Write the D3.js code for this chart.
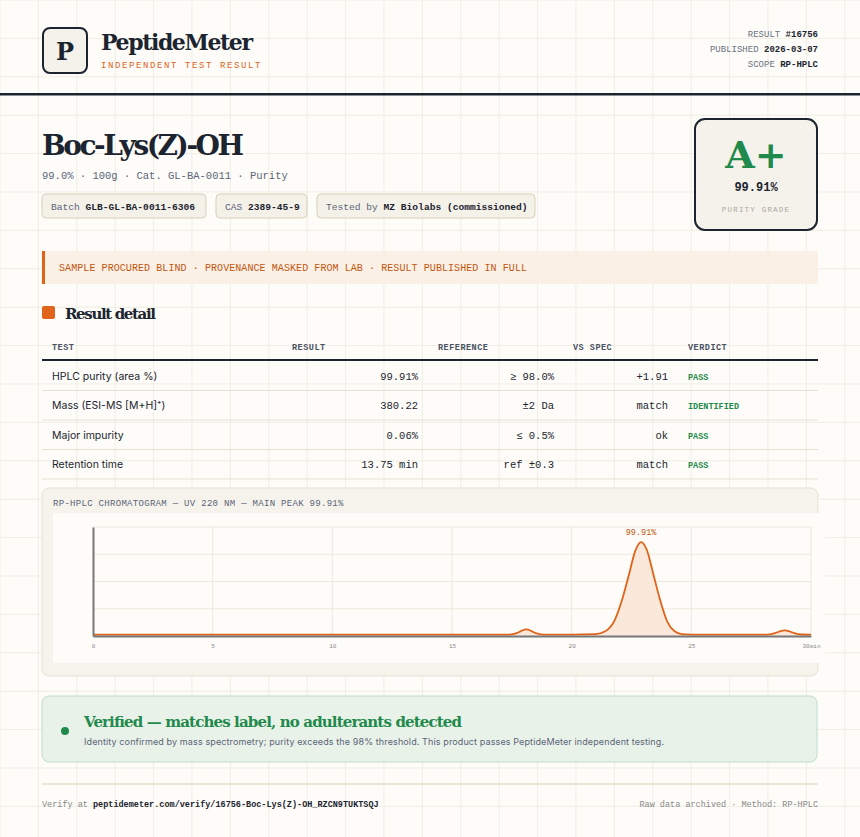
<!DOCTYPE html>
<html><head><meta charset="utf-8">
<script src="https://cdn.jsdelivr.net/npm/d3@7/dist/d3.min.js"></script>
<style>body{margin:0;background:#fdfcf8;}svg{display:block}</style>
</head><body><svg id="c" width="860" height="837"></svg>
<script>
const SERIF='"DejaVu Serif", "Liberation Serif", serif';
const MONO='"Liberation Mono", "DejaVu Sans Mono", monospace';
const SANS='Inter, "Noto Sans", sans-serif';
const INK='#1c2430', ORANGE='#e0631a', GREEN='#1f8a4c', GRAY='#6b7280';

const meta=[["RESULT","#16756"],["PUBLISHED","2026-03-07"],["SCOPE","RP-HPLC"]];
const chips=[["Batch","GLB-GL-BA-0011-6306"],["CAS","2389-45-9"],["Tested by","MZ Biolabs (commissioned)"]];
const columns=["TEST","RESULT","REFERENCE","VS SPEC","VERDICT"];
const tests=["HPLC purity (area %)","Mass (ESI-MS [M+H]⁺)","Major impurity","Retention time"];
const results=["99.91%","380.22","0.06%","13.75 min"];
const references=["≥ 98.0%","±2 Da","≤ 0.5%","ref ±0.3"];
const vsSpec=["+1.91","match","ok","match"];
const verdicts=["PASS","IDENTIFIED","PASS","PASS"];
const xTicks=[0,5,10,15,20,25,30];
// chromatogram samples: time (min), signal (% of main peak)
const times=[0,5,10,15,17.4,17.7,17.9,18.1,18.3,18.5,18.8,20,21,21.4,21.8,22.1,22.4,22.65,22.9,23.15,23.4,23.7,24.0,24.3,24.6,25,28.2,28.5,28.7,28.9,29.1,29.3,29.6,30];
const signal=[1.5,1.5,1.5,1.5,1.5,3,5.5,7,5.5,3,1.5,1.5,2,5,17,38,66,90,100,91,67,38,15,5,2,1.5,1.5,3,5,6,5,3,1.6,1.5];

const svg=d3.select("#c");
const g0=svg.append("g");
for(let x=0;x<=860;x+=38.4) g0.append("line").attr("x1",x).attr("x2",x).attr("y1",0).attr("y2",837).attr("stroke","#efede4");
for(let y=0;y<=837;y+=38.4) g0.append("line").attr("y1",y).attr("y2",y).attr("x1",0).attr("x2",860).attr("stroke","#efede4");

svg.append("rect").attr("x",43).attr("y",28).attr("width",44).attr("height",45).attr("rx",7).attr("fill","#f4f2ea").attr("stroke",INK).attr("stroke-width",2);
svg.append("text").attr("x",65).attr("y",60).attr("text-anchor","middle").attr("font-family",SERIF).attr("font-weight","bold").attr("font-size",24).attr("fill",INK).text("P");
svg.append("text").attr("x",101).attr("y",50).attr("font-family",SERIF).attr("font-weight","bold").attr("font-size",22).attr("fill",INK).attr("textLength",152).text("PeptideMeter");
svg.append("text").attr("x",101).attr("y",68).attr("font-family",MONO).attr("font-size",9).attr("letter-spacing",1.6).attr("fill",ORANGE).text("INDEPENDENT TEST RESULT");
meta.forEach((m,i)=>{
  const t=svg.append("text").attr("x",818).attr("y",37+i*15).attr("text-anchor","end").attr("font-family",MONO).attr("font-size",9).attr("fill",GRAY);
  t.append("tspan").text(m[0]+" ");
  t.append("tspan").attr("fill",INK).attr("font-weight","bold").text(m[1]);
});
svg.append("rect").attr("x",0).attr("y",93).attr("width",860).attr("height",2.5).attr("fill",INK);

svg.append("text").attr("x",42).attr("y",155).attr("font-family",SERIF).attr("font-weight","bold").attr("font-size",28).attr("fill",INK).attr("textLength",202).text("Boc-Lys(Z)-OH");
svg.append("text").attr("x",42).attr("y",179).attr("font-family",MONO).attr("font-size",10.5).attr("fill","#5b6478").text("99.0% · 100g · Cat. GL-BA-0011 · Purity");
let cx=42;
const chipW=[164,91,218];
chips.forEach((c,i)=>{
  svg.append("rect").attr("x",cx).attr("y",194).attr("width",chipW[i]).attr("height",24).attr("rx",4).attr("fill","#f4f1e8").attr("stroke","#d8cfb8");
  const t=svg.append("text").attr("x",cx+9).attr("y",209.5).attr("font-family",MONO).attr("font-size",9.6).attr("fill","#5b6478");
  t.append("tspan").text(c[0]+" ");
  t.append("tspan").attr("fill",INK).attr("font-weight","bold").text(c[1]);
  cx+=chipW[i]+10;
});
svg.append("rect").attr("x",695).attr("y",119).attr("width",122).attr("height",111).attr("rx",10).attr("fill","#f4f2ea").attr("stroke",INK).attr("stroke-width",2);
svg.append("text").attr("x",756).attr("y",168).attr("text-anchor","middle").attr("font-family",SERIF).attr("font-weight","bold").attr("font-size",38).attr("fill",GREEN).text("A+");
svg.append("text").attr("x",756).attr("y",191).attr("text-anchor","middle").attr("font-family",MONO).attr("font-weight","bold").attr("font-size",12).attr("fill",INK).text("99.91%");
svg.append("text").attr("x",756).attr("y",212).attr("text-anchor","middle").attr("font-family",MONO).attr("font-size",7.5).attr("letter-spacing",1.2).attr("fill","#a8a89c").text("PURITY GRADE");

svg.append("rect").attr("x",42).attr("y",251).attr("width",776).attr("height",33).attr("fill","#faf0e6");
svg.append("rect").attr("x",42).attr("y",251).attr("width",3).attr("height",33).attr("fill",ORANGE);
svg.append("text").attr("x",59).attr("y",270.5).attr("font-family",MONO).attr("font-size",10).attr("fill","#c2560f").attr("textLength",468).text("SAMPLE PROCURED BLIND · PROVENANCE MASKED FROM LAB · RESULT PUBLISHED IN FULL");

svg.append("rect").attr("x",42).attr("y",306).attr("width",13).attr("height",13).attr("rx",2).attr("fill",ORANGE);
svg.append("text").attr("x",65).attr("y",319).attr("font-family",SERIF).attr("font-weight","bold").attr("font-size",15).attr("fill",INK).attr("textLength",91).text("Result detail");
const colX=[52,292,438,573,688];
columns.forEach((c,i)=>svg.append("text").attr("x",colX[i]).attr("y",350).attr("font-family",MONO).attr("font-weight","bold").attr("font-size",8.5).attr("letter-spacing",0.5).attr("fill","#4b5263").text(c));
svg.append("rect").attr("x",42).attr("y",359).attr("width",776).attr("height",2).attr("fill",INK);
const rowY=d3.scaleBand().domain(d3.range(tests.length)).range([361,479]);
tests.forEach((t,i)=>{
  const y=rowY(i)+rowY.bandwidth()/2+4;
  svg.append("text").attr("x",52).attr("y",y).attr("font-family",SANS).attr("font-size",10.5).attr("fill",INK).text(t);
  svg.append("text").attr("x",418).attr("y",y).attr("text-anchor","end").attr("font-family",MONO).attr("font-size",10.5).attr("fill",INK).text(results[i]);
  svg.append("text").attr("x",554).attr("y",y).attr("text-anchor","end").attr("font-family",MONO).attr("font-size",10.5).attr("fill",INK).text(references[i]);
  svg.append("text").attr("x",668).attr("y",y).attr("text-anchor","end").attr("font-family",MONO).attr("font-size",10.5).attr("fill",INK).text(vsSpec[i]);
  svg.append("text").attr("x",688).attr("y",y).attr("font-family",MONO).attr("font-weight","bold").attr("font-size",8.5).attr("fill",GREEN).text(verdicts[i]);
  svg.append("line").attr("x1",42).attr("x2",818).attr("y1",rowY(i)+rowY.bandwidth()).attr("y2",rowY(i)+rowY.bandwidth()).attr("stroke","#e5e0d2").attr("stroke-width",1.2);
});

svg.append("rect").attr("x",42).attr("y",488).attr("width",776).attr("height",188).attr("rx",7).attr("fill","#f5f3ec").attr("stroke","#e6e1d3");
svg.append("text").attr("x",53).attr("y",506).attr("font-family",MONO).attr("font-size",9).attr("letter-spacing",0.3).attr("fill","#5b6478").text("RP-HPLC CHROMATOGRAM — UV 220 NM — MAIN PEAK 99.91%");
svg.append("rect").attr("x",53).attr("y",513).attr("width",772).attr("height",150).attr("fill","#fdfcf8");
const x=d3.scaleLinear().domain([0,30]).range([93,811]);
const y=d3.scaleLinear().domain([0,116]).range([636,527]);
const cg=svg.append("g");
[29,58,87,116].forEach(v=>cg.append("line").attr("x1",93).attr("x2",811).attr("y1",y(v)).attr("y2",y(v)).attr("stroke","#ece8dc").attr("stroke-width",1.2));
xTicks.slice(1).forEach(v=>cg.append("line").attr("x1",x(v)).attr("x2",x(v)).attr("y1",527).attr("y2",636).attr("stroke","#ece8dc").attr("stroke-width",1));
const pts=times.map((t,i)=>[t,signal[i]]);
const area=d3.area().x(d=>x(d[0])).y0(y(0)).y1(d=>y(d[1])).curve(d3.curveMonotoneX);
const line=d3.line().x(d=>x(d[0])).y(d=>y(d[1])).curve(d3.curveMonotoneX);
cg.append("path").datum(pts).attr("d",area).attr("fill","#f9e6d6").attr("opacity",0.9);
cg.append("path").datum(pts).attr("d",line).attr("fill","none").attr("stroke",ORANGE).attr("stroke-width",1.8);
const xa=cg.append("g").attr("transform","translate(0,636)").call(d3.axisBottom(x).tickValues(xTicks).tickSize(0).tickPadding(8).tickFormat(d=>d===30?"30min":d));
xa.select(".domain").attr("stroke","#777").attr("stroke-width",2);
xa.selectAll("text").attr("font-family",MONO).attr("font-size",6).attr("fill","#888");
const ya=cg.append("g").attr("transform","translate(93,0)").call(d3.axisLeft(y).tickValues([]).tickSize(0));
ya.select(".domain").attr("stroke","#777").attr("stroke-width",2);
cg.append("text").attr("x",x(22.9)).attr("y",y(100)-7).attr("text-anchor","middle").attr("font-family",MONO).attr("font-size",8.5).attr("fill","#c2560f").text("99.91%");

svg.append("rect").attr("x",42).attr("y",696).attr("width",775).attr("height",66).attr("rx",7).attr("fill","#e9f2e9").attr("stroke","#bfdcc6");
svg.append("circle").attr("cx",65).attr("cy",731).attr("r",4).attr("fill",GREEN);
svg.append("text").attr("x",84).attr("y",727).attr("font-family",SERIF).attr("font-weight","bold").attr("font-size",15).attr("fill",GREEN).attr("textLength",378).text("Verified — matches label, no adulterants detected");
svg.append("text").attr("x",84).attr("y",745).attr("font-family",SANS).attr("font-size",9).attr("fill","#5b6478").attr("textLength",580).text("Identity confirmed by mass spectrometry; purity exceeds the 98% threshold. This product passes PeptideMeter independent testing.");
svg.append("line").attr("x1",42).attr("x2",818).attr("y1",784).attr("y2",784).attr("stroke","#d9cfb6").attr("stroke-width",1.2);
const f=svg.append("text").attr("x",42).attr("y",807).attr("font-family",MONO).attr("font-size",8.5).attr("fill","#888");
f.append("tspan").text("Verify at ");
f.append("tspan").attr("fill",INK).attr("font-weight","bold").text("peptidemeter.com/verify/16756-Boc-Lys(Z)-OH_RZCN9TUKTSQJ");
svg.append("text").attr("x",818).attr("y",807).attr("text-anchor","end").attr("font-family",MONO).attr("font-size",8.5).attr("fill","#888").text("Raw data archived · Method: RP-HPLC");
</script></body></html>
